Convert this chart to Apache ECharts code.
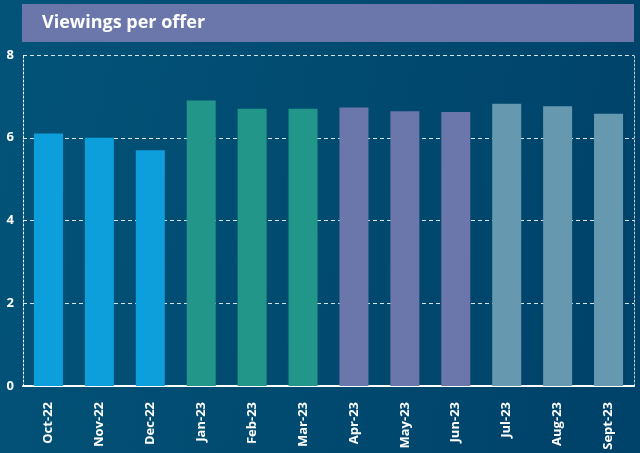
<!DOCTYPE html>
<html><head><meta charset="utf-8">
<script src="https://cdn.jsdelivr.net/npm/echarts@6/dist/echarts.min.js"></script>
<style>html,body{margin:0;padding:0;}#c{width:640px;height:453px;}</style>
</head><body><div id="c"></div>
<script>
const categories = ['Oct-22','Nov-22','Dec-22','Jan-23','Feb-23','Mar-23','Apr-23','May-23','Jun-23','Jul-23','Aug-23','Sept-23'];
const values = [6.1, 6.0, 5.7, 6.9, 6.7, 6.7, 6.73, 6.64, 6.62, 6.82, 6.76, 6.58];
const yTicks = [0, 2, 4, 6, 8];
const quarterColors = ['#0c9fdb','#0c9fdb','#0c9fdb','#229688','#229688','#229688','#6b76ab','#6b76ab','#6b76ab','#6699b0','#6699b0','#6699b0'];

const chart = echarts.init(document.getElementById('c'), null, {renderer:'canvas'});
const FONT = '"Open Sans", "Noto Sans", sans-serif';
chart.setOption({
  animation: false,
  backgroundColor: {type:'linear', x:0, y:0, x2:1, y2:0.3, colorStops:[{offset:0,color:'#035378'},{offset:1,color:'#00436a'}]},
  graphic: [
    {type:'rect', shape:{x:22, y:4, width:612, height:38}, style:{fill:'#6b77ab'}, z:0}
  ],
  title: {text:'Viewings per offer', left:37, top:9, textStyle:{color:'#ffffff', fontSize:18, fontWeight:'bold', fontFamily:FONT}},
  grid: {left:23, right:6, top:55, bottom:67, containLabel:false},
  xAxis: {
    type:'category', data: categories,
    axisLine:{show:true, lineStyle:{color:'#ffffff', width:2}},
    axisTick:{show:false},
    axisLabel:{rotate:90, color:'#ffffff', fontWeight:'bold', fontSize:13, fontFamily:FONT, margin:16, interval:0}
  },
  yAxis: [{
    type:'value', min:0, max:8, interval:2,
    axisLine:{show:true, lineStyle:{color:'#ffffff', type:[2,2], width:1}},
    axisTick:{show:false},
    axisLabel:{color:'#ffffff', fontWeight:'bold', fontSize:13, fontFamily:FONT, margin:9,
      formatter: v => yTicks.includes(v) ? String(v) : ''},
    splitLine:{show:true, lineStyle:{color:'rgba(255,255,255,0.85)', type:[4,3], width:1}}
  },{
    type:'value', min:0, max:8, interval:2, position:'right',
    axisLine:{show:true, lineStyle:{color:'rgba(255,255,255,0.75)', type:[2,2], width:1}},
    axisTick:{show:false}, axisLabel:{show:false}, splitLine:{show:false}
  }],
  series: [{
    type:'bar', barWidth:29,
    data: values.map((v,i)=>({value:v, itemStyle:{color:quarterColors[i]}})),
    z:1
  }]
});
</script></body></html>
